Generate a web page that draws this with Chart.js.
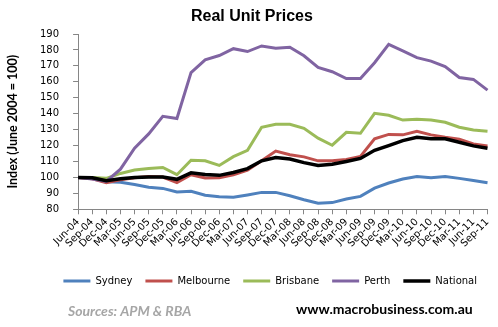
<!DOCTYPE html>
<html>
<head>
<meta charset="utf-8">
<script src="https://cdn.jsdelivr.net/npm/chart.js@4.4.0/dist/chart.umd.min.js"></script>
<style>
  html, body { margin: 0; padding: 0; background: #fff; }
</style>
</head>
<body>
<canvas id="chart" width="498" height="327"></canvas>
<script>
var quarters = ['Jun-04', 'Sep-04', 'Dec-04', 'Mar-05', 'Jun-05', 'Sep-05', 'Dec-05', 'Mar-06',
  'Jun-06', 'Sep-06', 'Dec-06', 'Mar-07', 'Jun-07', 'Sep-07', 'Dec-07', 'Mar-08', 'Jun-08',
  'Sep-08', 'Dec-08', 'Mar-09', 'Jun-09', 'Sep-09', 'Dec-09', 'Mar-10', 'Jun-10', 'Sep-10',
  'Dec-10', 'Mar-11', 'Jun-11', 'Sep-11'];

var sydney = [100, 99.6, 97.3, 96.9, 95.6, 93.8, 93.1, 90.8, 91.3, 88.8, 87.8, 87.5, 89, 90.6, 90.6,
  88.5, 86, 83.8, 84.2, 86.5, 88.1, 93.3, 96.5, 99, 100.6, 99.8, 100.6, 99.4, 98.1, 96.7];
var melbourne = [100, 99.2, 96.7, 98.5, 99.8, 100.6, 100.2, 96.7, 101.7, 99.6, 99.8, 101.7, 104.6, 110.4, 116.5,
  114.2, 112.9, 110.4, 110.4, 111.3, 113.2, 124.2, 127, 126.7, 129, 126.7, 125.2, 124, 121, 119.8];
var brisbane = [100, 100, 99.4, 102.5, 104.6, 105.6, 106.2, 101.7, 110.8, 110.4, 107.5, 113, 117, 131.5, 133.3,
  133.3, 130.8, 124.6, 120.2, 128.3, 127.7, 140.2, 139, 136, 136.5, 136, 134.6, 131.5, 129.8, 129];
var perth = [100, 99, 97.5, 105.2, 118.3, 127.3, 138.3, 137, 165.8, 173.8, 176.5, 180.8, 179, 182.5, 181,
  181.7, 176.3, 169, 166.3, 162, 162, 172, 183.5, 179.4, 175.2, 173, 169.6, 162.7, 161.5, 154.8];
var national = [100, 99.8, 97.9, 99.2, 100, 100.2, 100.2, 98.8, 102.9, 101.9, 101.3, 103.1, 105.5, 110.4, 112.5,
  111.5, 109.3, 107.5, 108.3, 110, 111.9, 117, 120, 123.1, 125.2, 124.2, 124.2, 122.1, 119.8, 118.3];

var axisGrey = '#868686';

// title and the two footer texts are drawn straight onto the canvas
var extraText = {
  id: 'extraText',
  afterDraw: function (chart) {
    var ctx = chart.ctx;
    ctx.save();
    ctx.textBaseline = 'alphabetic';
    ctx.textAlign = 'left';
    ctx.fillStyle = '#000';
    ctx.font = 'bold 16px "Liberation Sans"';
    ctx.fillText('Real Unit Prices', 191, 21);
    ctx.font = 'italic bold 14px Lato';
    ctx.fillStyle = '#a6a6a6';
    ctx.fillText('Sources: APM & RBA', 68, 316);
    ctx.font = 'bold 14px Lato';
    ctx.fillStyle = '#000';
    ctx.fillText('www.macrobusiness.com.au', 296, 314);
    ctx.restore();
  }
};

function series(label, data, color, width, order) {
  return {
    label: label,
    data: data,
    borderColor: color,
    backgroundColor: color,
    borderWidth: width,
    pointRadius: 0,
    tension: 0,
    fill: false,
    order: order
  };
}

var ctx = document.getElementById('chart').getContext('2d');
var chart = new Chart(ctx, {
  type: 'line',
  data: {
    labels: quarters,
    datasets: [
      series('Sydney', sydney, '#4f81bd', 3, 5),
      series('Melbourne', melbourne, '#c0504d', 3, 4),
      series('Brisbane', brisbane, '#9bbb59', 3, 3),
      series('Perth', perth, '#8064a2', 3, 2),
      series('National', national, '#000000', 3.5, 1)
    ]
  },
  options: {
    responsive: false,
    animation: false,
    layout: {
      padding: { top: 34, left: 5, right: 8, bottom: 31 }
    },
    plugins: {
      title: { display: false },
      tooltip: { enabled: false },
      legend: {
        position: 'bottom',
        align: 'end',
        labels: {
          usePointStyle: true,
          pointStyle: 'line',
          pointStyleWidth: 27,
          boxHeight: 10,
          padding: 13,
          color: '#000',
          font: { family: 'DejaVu Sans', size: 10 },
          sort: function (a, b) { return a.datasetIndex - b.datasetIndex; }
        }
      }
    },
    scales: {
      x: {
        type: 'category',
        offset: false,
        afterFit: function (scale) {
          // leave a gap between the rotated labels and the legend
          scale.height += 11;
        },
        grid: {
          display: true,
          drawOnChartArea: false,
          drawTicks: true,
          tickLength: 5,
          color: axisGrey
        },
        border: { color: axisGrey, width: 1 },
        ticks: {
          autoSkip: false,
          maxRotation: 45,
          minRotation: 45,
          padding: 2,
          color: '#000',
          font: { family: 'DejaVu Sans', size: 10 }
        }
      },
      y: {
        min: 80,
        max: 190,
        grid: {
          display: true,
          drawOnChartArea: false,
          drawTicks: true,
          tickLength: 5,
          color: axisGrey
        },
        border: { color: axisGrey, width: 1 },
        ticks: {
          stepSize: 10,
          padding: 14,
          color: '#000',
          font: { family: 'DejaVu Sans', size: 10 }
        },
        title: {
          display: true,
          text: 'Index (June 2004 = 100)',
          color: '#000',
          font: { family: 'Lato', size: 12.5, weight: 'bold' },
          padding: { top: 0, bottom: 6 }
        }
      }
    }
  },
  plugins: [extraText]
});
</script>
</body>
</html>
